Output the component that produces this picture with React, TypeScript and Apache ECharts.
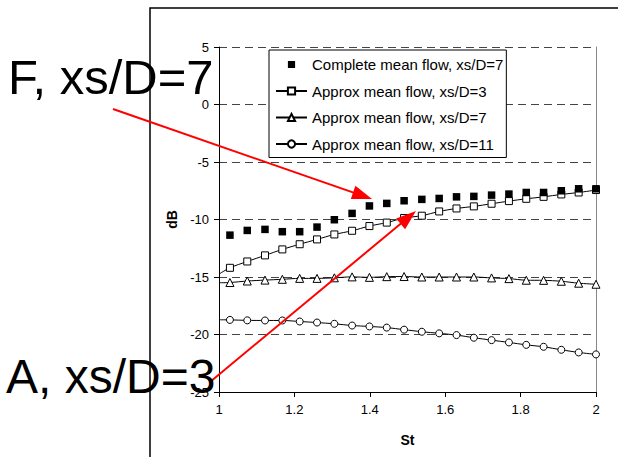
import React, { useEffect, useRef } from "react";
import * as echarts from "echarts";

// Strouhal numbers of the measured points
const st = [
  1.029, 1.075, 1.122, 1.168, 1.214, 1.26, 1.306, 1.353, 1.399, 1.445, 1.491,
  1.538, 1.584, 1.63, 1.676, 1.723, 1.769, 1.815, 1.861, 1.908, 1.954, 2.0,
];
const completeXs7 = [
  -11.36, -10.95, -10.86, -11.06, -11.06, -10.66, -10.02, -9.47, -8.82, -8.6,
  -8.37, -8.25, -8.17, -8.03, -7.99, -7.88, -7.79, -7.65, -7.65, -7.5, -7.33,
  -7.33,
];
const approxXs3 = [
  -14.2, -13.65, -13.12, -12.6, -12.15, -11.73, -11.3, -10.98, -10.57, -10.27,
  -9.87, -9.67, -9.3, -9.04, -8.86, -8.63, -8.4, -8.2, -8.03, -7.82, -7.65,
  -7.44,
];
const approxXs7 = [
  -15.48, -15.35, -15.27, -15.2, -15.12, -15.12, -15.07, -14.99, -15.03,
  -14.97, -14.96, -15.0, -15.0, -15.0, -15.0, -15.08, -15.14, -15.28, -15.29,
  -15.37, -15.54, -15.63,
];
const approxXs11 = [
  -18.73, -18.77, -18.78, -18.78, -18.87, -18.96, -19.07, -19.22, -19.3, -19.4,
  -19.58, -19.76, -19.9, -20.05, -20.28, -20.49, -20.69, -20.9, -21.07, -21.33,
  -21.56, -21.73,
];
// where each fitted curve meets the left axis (St = 1)
const curveStartSt = 1;
const approxXs3Start = -14.75;
const approxXs7Start = -15.5;
const approxXs11Start = -18.72;

const seriesNames = [
  "Complete mean flow, xs/D=7",
  "Approx mean flow, xs/D=3",
  "Approx mean flow, xs/D=7",
  "Approx mean flow, xs/D=11",
];
const annotations = ["F, xs/D=7", "A, xs/D=3"];
const xAxisName = "St";
const yAxisName = "dB";

const FONT = '"Liberation Sans", Arial, sans-serif';

function arrow(x1: number, y1: number, x2: number, y2: number) {
  const dx = x2 - x1;
  const dy = y2 - y1;
  const L = Math.hypot(dx, dy);
  const ux = dx / L;
  const uy = dy / L;
  const hl = 20;
  const hw = 7;
  const bx = x2 - ux * hl;
  const by = y2 - uy * hl;
  return [
    {
      type: "line",
      z: 100,
      shape: { x1, y1, x2: bx + ux * 2, y2: by + uy * 2 },
      style: { stroke: "#ff0000", lineWidth: 2 },
    },
    {
      type: "polygon",
      z: 100,
      shape: {
        points: [
          [x2, y2],
          [bx - uy * hw, by + ux * hw],
          [bx + uy * hw, by - ux * hw],
        ],
      },
      style: { fill: "#ff0000" },
    },
  ];
}

function curve(start: number, vals: number[]) {
  return [
    { value: [curveStartSt, start], symbol: "none" },
    ...st.map((x, i) => [x, vals[i]]),
  ];
}

export default function App() {
  const ref = useRef<HTMLDivElement>(null);
  useEffect(() => {
    document.body.style.margin = "0";
    if (!ref.current) return;
    const chart = echarts.init(ref.current, null, { renderer: "svg" });
    const lineSeries = (
      name: string,
      start: number,
      vals: number[],
      symbol: string,
      size: number
    ) => ({
      name,
      type: "line",
      data: curve(start, vals),
      smooth: 0.3,
      symbol,
      symbolSize: size,
      showAllSymbol: true,
      lineStyle: { color: "#000", width: 1 },
      itemStyle: { color: "#fff", borderColor: "#000", borderWidth: 1 },
      emphasis: { disabled: true },
      z: 3,
    });
    chart.setOption({
      animation: false,
      textStyle: { fontFamily: FONT },
      grid: { left: 219, right: 22, top: 47, bottom: 65 },
      xAxis: {
        type: "value",
        min: 1,
        max: 2,
        interval: 0.2,
        name: xAxisName,
        nameLocation: "middle",
        nameGap: 41,
        nameTextStyle: {
          fontFamily: FONT,
          fontSize: 14,
          fontWeight: "bold",
          color: "#000",
        },
        axisLine: { onZero: false, lineStyle: { color: "#000", width: 1 } },
        axisTick: { show: true, length: 5, lineStyle: { color: "#000" } },
        axisLabel: { color: "#000", fontSize: 13, margin: 11, fontFamily: FONT },
        splitLine: { show: false },
      },
      yAxis: [
        {
          type: "value",
          min: -25,
          max: 5,
          interval: 5,
          name: yAxisName,
          nameLocation: "middle",
          nameGap: 38,
          nameTextStyle: {
            fontFamily: FONT,
            fontSize: 14,
            fontWeight: "bold",
            color: "#000",
          },
          axisLine: { show: true, onZero: false, lineStyle: { color: "#000", width: 1 } },
          axisTick: { show: true, length: 5, lineStyle: { color: "#000" } },
          axisLabel: { color: "#000", fontSize: 13, margin: 10, fontFamily: FONT },
          splitLine: {
            show: true,
            lineStyle: { color: "#444", type: [8, 5], width: 1 },
          },
        },
        {
          type: "value",
          min: -25,
          max: 5,
          interval: 5,
          position: "right",
          axisLine: { show: true, onZero: false, lineStyle: { color: "#888", width: 1 } },
          axisTick: { show: false },
          axisLabel: { show: false },
          splitLine: { show: false },
        },
      ],
      legend: {
        orient: "vertical",
        left: 269,
        top: 50,
        padding: [7, 3, 6, 6],
        itemGap: 11.5,
        itemWidth: 31,
        itemHeight: 9,
        borderColor: "#000",
        borderWidth: 1,
        backgroundColor: "#fff",
        textStyle: { color: "#000", fontSize: 15, fontFamily: FONT },
        data: seriesNames.map((n, i) =>
          i === 0 ? { name: n, lineStyle: { opacity: 0, width: 0 } } : { name: n }
        ),
      },
      series: [
        {
          name: seriesNames[0],
          type: "line",
          data: st.map((x, i) => [x, completeXs7[i]]),
          symbol: "rect",
          symbolSize: 7.5,
          showAllSymbol: true,
          lineStyle: { opacity: 0, width: 0 },
          itemStyle: { color: "#000" },
          emphasis: { disabled: true },
          z: 4,
        },
        lineSeries(seriesNames[1], approxXs3Start, approxXs3, "rect", 7),
        lineSeries(seriesNames[2], approxXs7Start, approxXs7, "triangle", 8),
        lineSeries(seriesNames[3], approxXs11Start, approxXs11, "circle", 7),
      ],
      graphic: [
        {
          type: "rect",
          z: 90,
          shape: { x: 150, y: 8, width: 600, height: 600 },
          style: { fill: "none", stroke: "#000", lineWidth: 1.5 },
        },
        {
          type: "text",
          z: 101,
          x: 8,
          y: 77,
          style: {
            text: annotations[0],
            font: `49px ${FONT}`,
            fill: "#000",
            verticalAlign: "middle",
          },
        },
        {
          type: "text",
          z: 101,
          x: 6,
          y: 376,
          style: {
            text: annotations[1],
            font: `48px ${FONT}`,
            fill: "#000",
            verticalAlign: "middle",
          },
        },
        ...arrow(113, 109, 372, 199),
        ...arrow(210, 382, 416, 211),
      ],
    });
    return () => chart.dispose();
  }, []);
  return <div ref={ref} style={{ width: 618, height: 457 }} />;
}
